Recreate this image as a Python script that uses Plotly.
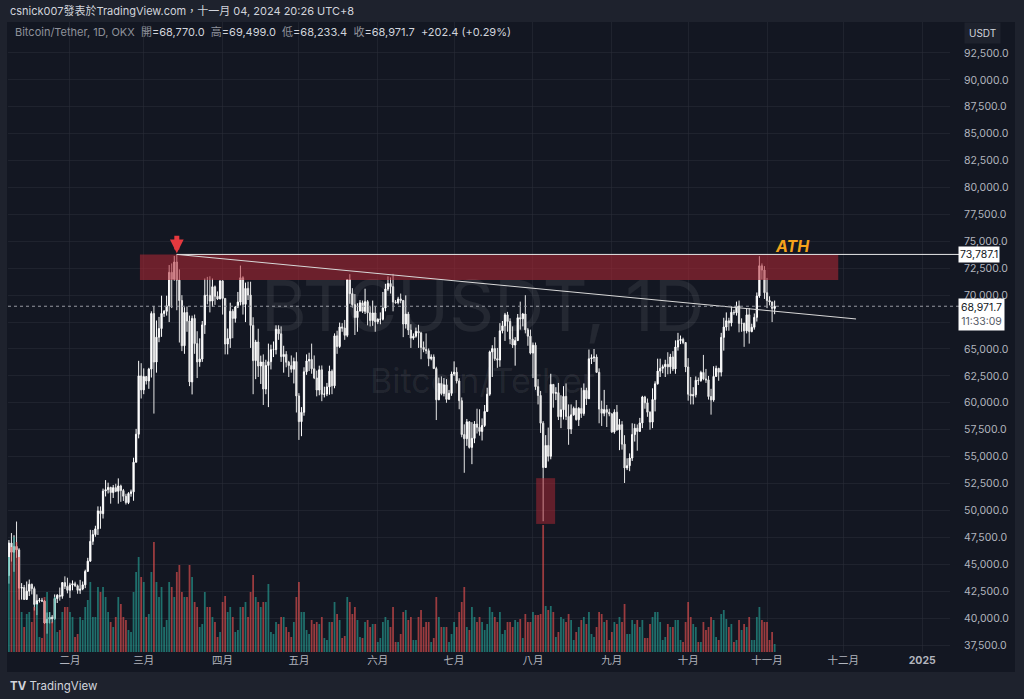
import pandas as pd
import plotly.graph_objects as go

# ---------------- data (BTC/USDT daily, OKX) ----------------
dates = pd.date_range("2024-01-08", "2024-11-04", freq="D")
first_open = 43950.0

close = [
    # Jan 8-31
    46970, 46120, 46660, 46340, 42780, 42840, 41730, 42500, 43140, 42740, 41270, 41620,
    41660, 41580, 39550, 39900, 40080, 39940, 41820, 42120, 42030, 43300, 42950, 42580,
    # Feb
    43080, 43190, 43000, 42580, 42700, 43090, 44340, 45290, 47130, 47760, 48290, 49960,
    49700, 51800, 51930, 52140, 51660, 52120, 51780, 52280, 51850, 51320, 50730, 51570,
    51730, 54480, 57080, 62500, 61200,
    # Mar
    62440, 62030, 63130, 68300, 63790, 66100, 66900, 68300, 68500, 69020, 72120, 71480,
    73080, 71400, 69500, 65300, 68390, 67600, 61940, 67840, 65500, 63800, 64070, 67240,
    69990, 69980, 69450, 70780, 69900, 69650, 71330,
    # Apr
    69700, 65460, 65980, 68510, 67840, 68900, 69360, 71620, 69150, 70630, 70010, 67190,
    63920, 65650, 63420, 63790, 61280, 63470, 63820, 64940, 64940, 66840, 66410, 64290,
    64500, 63770, 63460, 63120, 63840, 60640,
    # May
    58250, 59120, 62880, 63890, 64030, 63160, 62310, 61190, 63070, 60790, 60820, 61480,
    62940, 61580, 66220, 65230, 67050, 66940, 66270, 71450, 70140, 69120, 67920, 68520,
    69290, 68500, 69400, 68360, 67640, 68350, 67530,
    # Jun
    67760, 67760, 68800, 70570, 71080, 70790, 69360, 69310, 69650, 69510, 67320, 68240,
    66760, 66010, 66190, 66640, 66490, 65150, 64960, 64840, 64100, 64260, 63180, 60280,
    61800, 60860, 61670, 60320, 60880, 62680,
    # Jul
    62850, 62030, 60200, 57050, 56660, 58230, 55860, 56700, 58030, 57730, 57340, 57890,
    59200, 60800, 64730, 65040, 64100, 63970, 66690, 67150, 68170, 67560, 65930, 65370,
    65780, 67900, 67800, 68250, 66780, 66190, 64620,
    # Aug
    65350, 61500, 60680, 58110, 53990, 56040, 55030, 61710, 60880, 60940, 58710, 59350,
    60600, 58740, 57560, 58880, 59490, 58430, 59480, 59010, 61160, 60380, 64090, 64180,
    64250, 62830, 59420, 59030, 59370, 59120, 58970,
    # Sep
    57300, 59130, 57490, 57970, 56160, 53950, 54160, 54870, 57050, 57640, 57340, 58130,
    60540, 60000, 59130, 58210, 60310, 61760, 62950, 63200, 63350, 63580, 63340, 64260,
    63150, 65180, 65790, 65890, 65600, 63330,
    # Oct
    60800, 60650, 60750, 62090, 62060, 62820, 62220, 62130, 60580, 60270, 62450, 63200,
    62850, 66080, 67040, 67620, 67420, 68410, 68360, 69000, 67380, 67380, 66680, 68170,
    66620, 67020, 67940, 69920, 72730, 72340, 70230,
    # Nov 1-4
    69500, 69370, 68770, 68971.7,
]

high = [
    47250, 47900, 47700, 48970, 46500, 43250, 43080, 43400, 43580, 43200, 42930, 42200,
    41870, 41880, 41680, 40520, 40550, 40280, 42200, 42230, 42840, 43320, 43880, 43750,
    43280, 43500, 43380, 43120, 43550, 43400, 44500, 45600, 48200, 48180, 48580, 50380,
    50370, 52030, 52820, 52580, 52200, 52370, 52480, 52980, 52400, 52000, 51550, 51700,
    51940, 54900, 57580, 63900, 63680,
    63200, 62450, 63250, 68500, 69000, 67650, 67980, 69950, 68620, 69950, 72800, 72950,
    73650, 73787, 72400, 70000, 68880, 68950, 68100, 68100, 68200, 66650, 65990, 67600,
    71550, 71700, 71750, 71550, 70900, 70350, 71370,
    71380, 69700, 66900, 69300, 68700, 69000, 70300, 72750, 71760, 71170, 71250, 71250,
    67950, 65850, 66880, 64380, 64500, 64000, 65500, 65400, 65700, 67200, 67200, 67100,
    65300, 64800, 63900, 64400, 64200, 64700,
    60900, 59600, 63300, 64500, 64650, 65500, 64400, 62990, 63450, 63470, 61500, 61850,
    63450, 63100, 66450, 66700, 67450, 67400, 67700, 71500, 71950, 70650, 70100, 69250,
    69550, 69500, 70600, 69550, 68900, 69500, 69000,
    67850, 68400, 70300, 71050, 71750, 71650, 71980, 69550, 69850, 70150, 69550, 69980,
    68450, 67300, 66450, 66990, 67250, 66600, 65700, 66450, 65050, 64500, 64500, 63350,
    62350, 62450, 62300, 62200, 61200, 62900,
    63850, 63300, 62280, 60500, 58000, 58500, 58300, 58200, 58300, 59450, 59400, 58550,
    59800, 61400, 64850, 65350, 66100, 65100, 67400, 67600, 68350, 68450, 67850, 67100,
    66100, 68250, 69400, 68350, 70000, 66950, 66800,
    65600, 65600, 62200, 61100, 58300, 57000, 57700, 62700, 61750, 61450, 61850, 60700,
    61550, 61800, 59850, 59850, 59650, 60250, 59600, 61400, 61800, 61400, 64950, 64500,
    65000, 64500, 63200, 60200, 61200, 59800, 59450,
    59050, 59400, 59800, 58500, 58300, 56990, 54850, 55300, 58100, 58050, 57990, 58600,
    60650, 60650, 60400, 59200, 61350, 62000, 64100, 64100, 63550, 64000, 64700, 64550,
    64800, 65800, 66500, 66250, 66050, 65600,
    64150, 62400, 61450, 62450, 62350, 62980, 64450, 63150, 62500, 61300, 63400, 63450,
    63250, 66500, 67900, 68400, 67900, 68950, 68650, 69400, 69500, 67850, 67450, 68800,
    68800, 67350, 68300, 70250, 73620, 72950, 72700,
    71600, 69900, 69400, 69499,
]

low = [
    43200, 45250, 44300, 45600, 41700, 41720, 41700, 41720, 42050, 42200, 40700, 40280,
    41440, 41500, 39450, 38550, 39500, 39520, 39830, 41400, 41620, 41800, 42700, 42300,
    41880, 42580, 42900, 42260, 42250, 42590, 42780, 44340, 45240, 46800, 47560, 47720,
    48300, 49250, 51300, 51580, 50630, 51160, 51700, 50630, 50800, 50880, 50550, 50590,
    51280, 50900, 54450, 56700, 60400,
    60800, 61700, 61300, 62350, 59000, 62800, 65630, 66130, 67980, 68100, 67500, 68800,
    71350, 68600, 65600, 64800, 64550, 66600, 61550, 60780, 64550, 62300, 63350, 63800,
    66400, 69150, 68400, 68900, 69100, 69550, 69620,
    68200, 64500, 64500, 65100, 66000, 67450, 68800, 69050, 68200, 67500, 69550, 65100,
    60800, 62200, 62400, 61750, 59800, 60800, 59600, 63100, 64250, 64500, 65850, 63800,
    62800, 63300, 62400, 62800, 61800, 59100,
    56550, 56900, 58800, 62600, 62950, 62700, 62200, 60600, 60700, 60150, 60500, 60620,
    60750, 60800, 61350, 64550, 65100, 66600, 65850, 66100, 69200, 68850, 66300, 66600,
    68500, 68350, 68250, 67200, 67100, 67150, 66600,
    67300, 67300, 67650, 68500, 70400, 70150, 68500, 69200, 69150, 69250, 66100, 66900,
    66300, 65100, 65850, 66050, 65100, 64050, 64700, 64550, 63400, 63950, 63150, 58400,
    60250, 60700, 60600, 60000, 60300, 60650,
    62500, 61800, 59400, 56800, 53500, 56000, 55750, 54300, 56250, 57150, 56950, 56500,
    57750, 59250, 60650, 62400, 63900, 63250, 63350, 66450, 65750, 66600, 65450, 65100,
    63450, 65750, 66800, 67100, 66450, 65300, 64500,
    62300, 61200, 59850, 57200, 49000, 53950, 54550, 54750, 59550, 60250, 58400, 57650,
    58450, 58400, 56100, 57100, 58800, 58350, 57850, 58600, 58800, 59800, 60350, 63600,
    63800, 62800, 58100, 57850, 58750, 57750, 58750,
    57200, 57130, 57400, 55600, 55650, 52550, 53750, 53650, 54600, 56400, 55550, 57350,
    57650, 59450, 58700, 57500, 57650, 59200, 61700, 62400, 62750, 62400, 62650, 62700,
    62950, 62700, 64850, 65450, 65450, 62850,
    60200, 59850, 59850, 60500, 61650, 61950, 62100, 61850, 60300, 58900, 60100, 62450,
    62050, 62450, 64850, 66700, 66700, 67100, 68150, 68100, 66550, 66600, 65200, 66450,
    65500, 66550, 66800, 67550, 69750, 71450, 69650,
    68800, 69050, 67500, 68233.4,
]

volume = [
    95, 105, 115, 110, 95, 40, 25, 38, 40, 30, 45, 48, 15, 14, 55, 60, 40, 30, 55, 20, 22, 40, 45, 45,
    40, 35, 15, 18, 35, 32, 45, 52, 70, 35, 35, 65, 60, 65, 55, 40, 30, 25, 35, 55, 48, 35, 32, 22,
    20, 60, 80, 95, 75,
    70, 35, 38, 80, 110, 70, 55, 65, 25, 32, 70, 65, 55, 80, 87, 60, 55, 55, 87, 75, 50, 45, 25, 28,
    60, 45, 45, 35, 30, 15, 20,
    50, 56, 40, 45, 35, 20, 22, 45, 45, 50, 35, 60, 77, 55, 50, 45, 50, 50, 68, 20, 18, 30, 28, 35,
    35, 25, 20, 15, 30, 55,
    70, 40, 40, 22, 18, 32, 28, 30, 28, 35, 14, 12, 30, 30, 50, 38, 32, 14, 16, 55, 50, 38, 45, 32,
    15, 14, 30, 32, 25, 28, 28,
    10, 14, 30, 35, 32, 25, 45, 10, 10, 18, 40, 42, 32, 35, 12, 12, 35, 42, 25, 30, 30, 10, 14, 55,
    35, 25, 25, 25, 10, 18,
    30, 25, 40, 50, 65, 25, 22, 45, 35, 30, 35, 30, 22, 28, 45, 40, 35, 30, 40, 18, 22, 30, 30, 25,
    32, 30, 33, 14, 38, 30, 30,
    40, 37, 37, 38, 127, 46, 42, 46, 40, 15, 20, 35, 33, 30, 38, 32, 12, 20, 25, 32, 35, 28, 40, 18,
    15, 25, 40, 38, 30, 32, 12,
    20, 30, 28, 35, 30, 48, 18, 18, 32, 28, 32, 25, 32, 14, 14, 28, 35, 40, 40, 30, 12, 15, 28, 25,
    25, 32, 32, 12, 10, 30,
    50, 35, 28, 25, 10, 10, 30, 22, 25, 35, 32, 15, 12, 38, 42, 33, 25, 28, 10, 12, 32, 22, 28, 25,
    35, 12, 12, 35, 45, 32, 30,
    30, 12, 20, 8,
]

month_ticks = ["2024-02-01", "2024-03-01", "2024-04-01", "2024-05-01", "2024-06-01", "2024-07-01",
               "2024-08-01", "2024-09-01", "2024-10-01", "2024-11-01", "2024-12-01", "2025-01-01"]
month_labels = ["二月", "三月", "四月", "五月", "六月", "七月", "八月", "九月", "十月", "十一月",
                "十二月", "<b>2025</b>"]

price_ticks = [37500, 40000, 42500, 45000, 47500, 50000, 52500, 55000, 57500, 60000, 62500, 65000,
               67500, 70000, 72500, 75000, 77500, 80000, 82500, 85000, 87500, 90000, 92500]
hidden_tick = 67500   # covered by the last-price label in the reference

ath_date, ath_price = "2024-03-14", 73787.1
last_price = 68971.7
zone_low = 71400
zone_dates = ["2024-02-28 12:00", "2024-11-29"]
trend_end = ("2024-12-06", 67790)
aug_box_dates = ["2024-08-02 06:00", "2024-08-09 17:00"]
aug_box_prices = [48750, 53000]

opens = [first_open] + close[:-1]
vol_colors = ["rgba(38,166,154,0.62)" if c >= o else "rgba(239,83,80,0.62)"
              for o, c in zip(opens, close)]
price_ticktext = ["" if v == hidden_tick else f"{v:,.1f}" for v in price_ticks]

# ---------------- layout geometry ----------------
W, H = 1024, 699
L, R = 8, 950          # plot area x pixels
T, B = 22, 652         # plot area y pixels
PAPER_BG = "#1e222d"
PANE_BG = "#131722"
FONT = "Inter, 'Noto Sans CJK TC', sans-serif"

def px_to_date(px):
    return pd.Timestamp("2024-01-01") + pd.Timedelta(days=(px + 8.9) / 2.544)

PX_PER_K = 10.77
y_top = 92500 + (53 - T) / PX_PER_K * 1000
y_bot = 37500 - (B - 645) / PX_PER_K * 1000

def paper_x(px):
    return (px - L) / (R - L)

def paper_y(py):
    return (B - py) / (B - T)

fig = go.Figure()

fig.add_trace(go.Bar(
    x=dates, y=volume, marker=dict(color=vol_colors, line=dict(width=0)),
    yaxis="y2", hoverinfo="skip", showlegend=False,
))

fig.add_trace(go.Candlestick(
    x=dates, open=opens, high=high, low=low, close=close,
    increasing=dict(line=dict(color="#ffffff", width=1), fillcolor="#ffffff"),
    decreasing=dict(line=dict(color="#e6e6e6", width=1), fillcolor="#e6e6e6"),
    whiskerwidth=0, hoverinfo="skip", showlegend=False,
))

shapes = [
    # chart pane background
    dict(type="rect", xref="paper", yref="paper", x0=paper_x(7), x1=paper_x(1015),
         y0=paper_y(672), y1=paper_y(22), fillcolor=PANE_BG, line=dict(width=0), layer="below"),
    # resistance zone
    dict(type="rect", xref="x", yref="y", x0=zone_dates[0], x1=zone_dates[1],
         y0=zone_low, y1=ath_price, fillcolor="rgba(178,40,52,0.56)", line=dict(width=0), layer="above"),
    # Aug 5 box
    dict(type="rect", xref="x", yref="y", x0=aug_box_dates[0], x1=aug_box_dates[1],
         y0=aug_box_prices[0], y1=aug_box_prices[1], fillcolor="rgba(178,40,52,0.5)",
         line=dict(width=0), layer="above"),
    # ATH horizontal ray
    dict(type="line", xref="x", yref="y", x0=ath_date, x1=px_to_date(R), y0=ath_price, y1=ath_price,
         line=dict(color="#e8e8e8", width=1), layer="above"),
    dict(type="line", xref="paper", yref="y", x0=1, x1=paper_x(960), y0=ath_price, y1=ath_price,
         line=dict(color="#e8e8e8", width=1), layer="above"),
    # trendline
    dict(type="line", xref="x", yref="y", x0=ath_date, x1=trend_end[0], y0=ath_price, y1=trend_end[1],
         line=dict(color="#d8d8d8", width=1), layer="above"),
    # last price dotted line
    dict(type="line", xref="paper", yref="y", x0=0, x1=paper_x(960), y0=last_price, y1=last_price,
         line=dict(color="#9598a1", width=1, dash="dot"), layer="above"),
]

annotations = [
    # watermark
    dict(xref="paper", yref="paper", x=paper_x(482), y=paper_y(305), text="BTCUSDT, 1D",
         showarrow=False, font=dict(family=FONT, size=70, color="rgba(255,255,255,0.075)"),
         xanchor="center", yanchor="middle"),
    dict(xref="paper", yref="paper", x=paper_x(482), y=paper_y(380), text="Bitcoin/Tether",
         showarrow=False, font=dict(family=FONT, size=34, color="rgba(255,255,255,0.075)"),
         xanchor="center", yanchor="middle"),
    # header
    dict(xref="paper", yref="paper", x=paper_x(8), y=paper_y(11), xanchor="left", yanchor="middle",
         text="csnick007發表於TradingView.com，十一月 04, 2024 20:26 UTC+8", showarrow=False,
         font=dict(family=FONT, size=11, color="#d1d4dc")),
    # legend row
    dict(xref="paper", yref="paper", x=paper_x(13), y=paper_y(32), xanchor="left", yanchor="middle",
         showarrow=False, font=dict(family=FONT, size=11, color="#d1d4dc"),
         text=("<span style='color:#8f929b'>Bitcoin/Tether, 1D, OKX</span>\u00a0\u00a0"
               "<span style='color:#8f929b'>開</span>=68,770.0\u00a0\u00a0"
               "<span style='color:#8f929b'>高</span>=69,499.0\u00a0\u00a0"
               "<span style='color:#8f929b'>低</span>=68,233.4\u00a0\u00a0"
               "<span style='color:#8f929b'>收</span>=68,971.7\u00a0\u00a0+202.4 (+0.29%)")),
    # USDT box
    dict(xref="paper", yref="paper", x=paper_x(982), y=paper_y(33), xanchor="center", yanchor="middle",
         text="USDT", showarrow=False, bgcolor="#1e222d", borderpad=4,
         font=dict(family=FONT, size=10, color="#d1d4dc")),
    # price labels
    dict(xref="paper", yref="y", x=paper_x(958), y=ath_price, xanchor="left", yanchor="middle",
         text="73,787.1", showarrow=False, bgcolor="#ffffff", borderpad=1,
         font=dict(family=FONT, size=10.5, color="#131722")),
    dict(xref="paper", yref="y", x=paper_x(958), y=last_price, xanchor="left", yanchor="top",
         yshift=8, text="68,971.7<br><span style='color:#555a66'>11:33:09</span>", showarrow=False,
         bgcolor="#ffffff", borderpad=2, align="center",
         font=dict(family=FONT, size=10.5, color="#131722")),
    # ATH label
    dict(xref="x", yref="y", x="2024-11-11", y=74560, text="<b><i>ATH</i></b>", showarrow=False,
         font=dict(family=FONT, size=16, color="#f5a21b"), xanchor="center", yanchor="middle"),
    # red arrow
    dict(xref="x", yref="y", x=ath_date, y=73900, ax=0, ay=-19, text="", showarrow=True,
         arrowhead=2, arrowsize=0.55, arrowwidth=5, arrowcolor="#e5393f", standoff=0),
    # TradingView logo
    dict(xref="paper", yref="paper", x=paper_x(8), y=paper_y(686), xanchor="left", yanchor="middle",
         text="<b>TV</b>\u00a0TradingView", showarrow=False,
         font=dict(family=FONT, size=11.5, color="#d1d4dc")),
]

fig.update_layout(
    width=W, height=H,
    margin=dict(l=L, r=W - R, t=T, b=H - B, pad=0),
    paper_bgcolor=PAPER_BG, plot_bgcolor=PANE_BG,
    showlegend=False, bargap=0.3,
    shapes=shapes, annotations=annotations,
    xaxis=dict(
        type="date", range=[px_to_date(L), px_to_date(R)],
        tickvals=month_ticks, ticktext=month_labels,
        showgrid=True, gridcolor="rgba(42,46,57,0.55)", gridwidth=1,
        zeroline=False, showline=False, ticks="",
        tickfont=dict(family=FONT, size=10.5, color="#b2b5be"),
        rangeslider=dict(visible=False), fixedrange=True,
    ),
    yaxis=dict(
        side="right", range=[y_bot, y_top], tickvals=price_ticks, ticktext=price_ticktext,
        showgrid=True, gridcolor="rgba(42,46,57,0.55)", gridwidth=1,
        zeroline=False, showline=False, ticks="", ticklabelstandoff=13,
        tickfont=dict(family=FONT, size=10.5, color="#b2b5be"), fixedrange=True,
    ),
    yaxis2=dict(
        overlaying="y", range=[0, B - T], showticklabels=False, showgrid=False,
        zeroline=False, fixedrange=True,
    ),
)

fig.write_html("out.html", config=dict(displayModeBar=False))
